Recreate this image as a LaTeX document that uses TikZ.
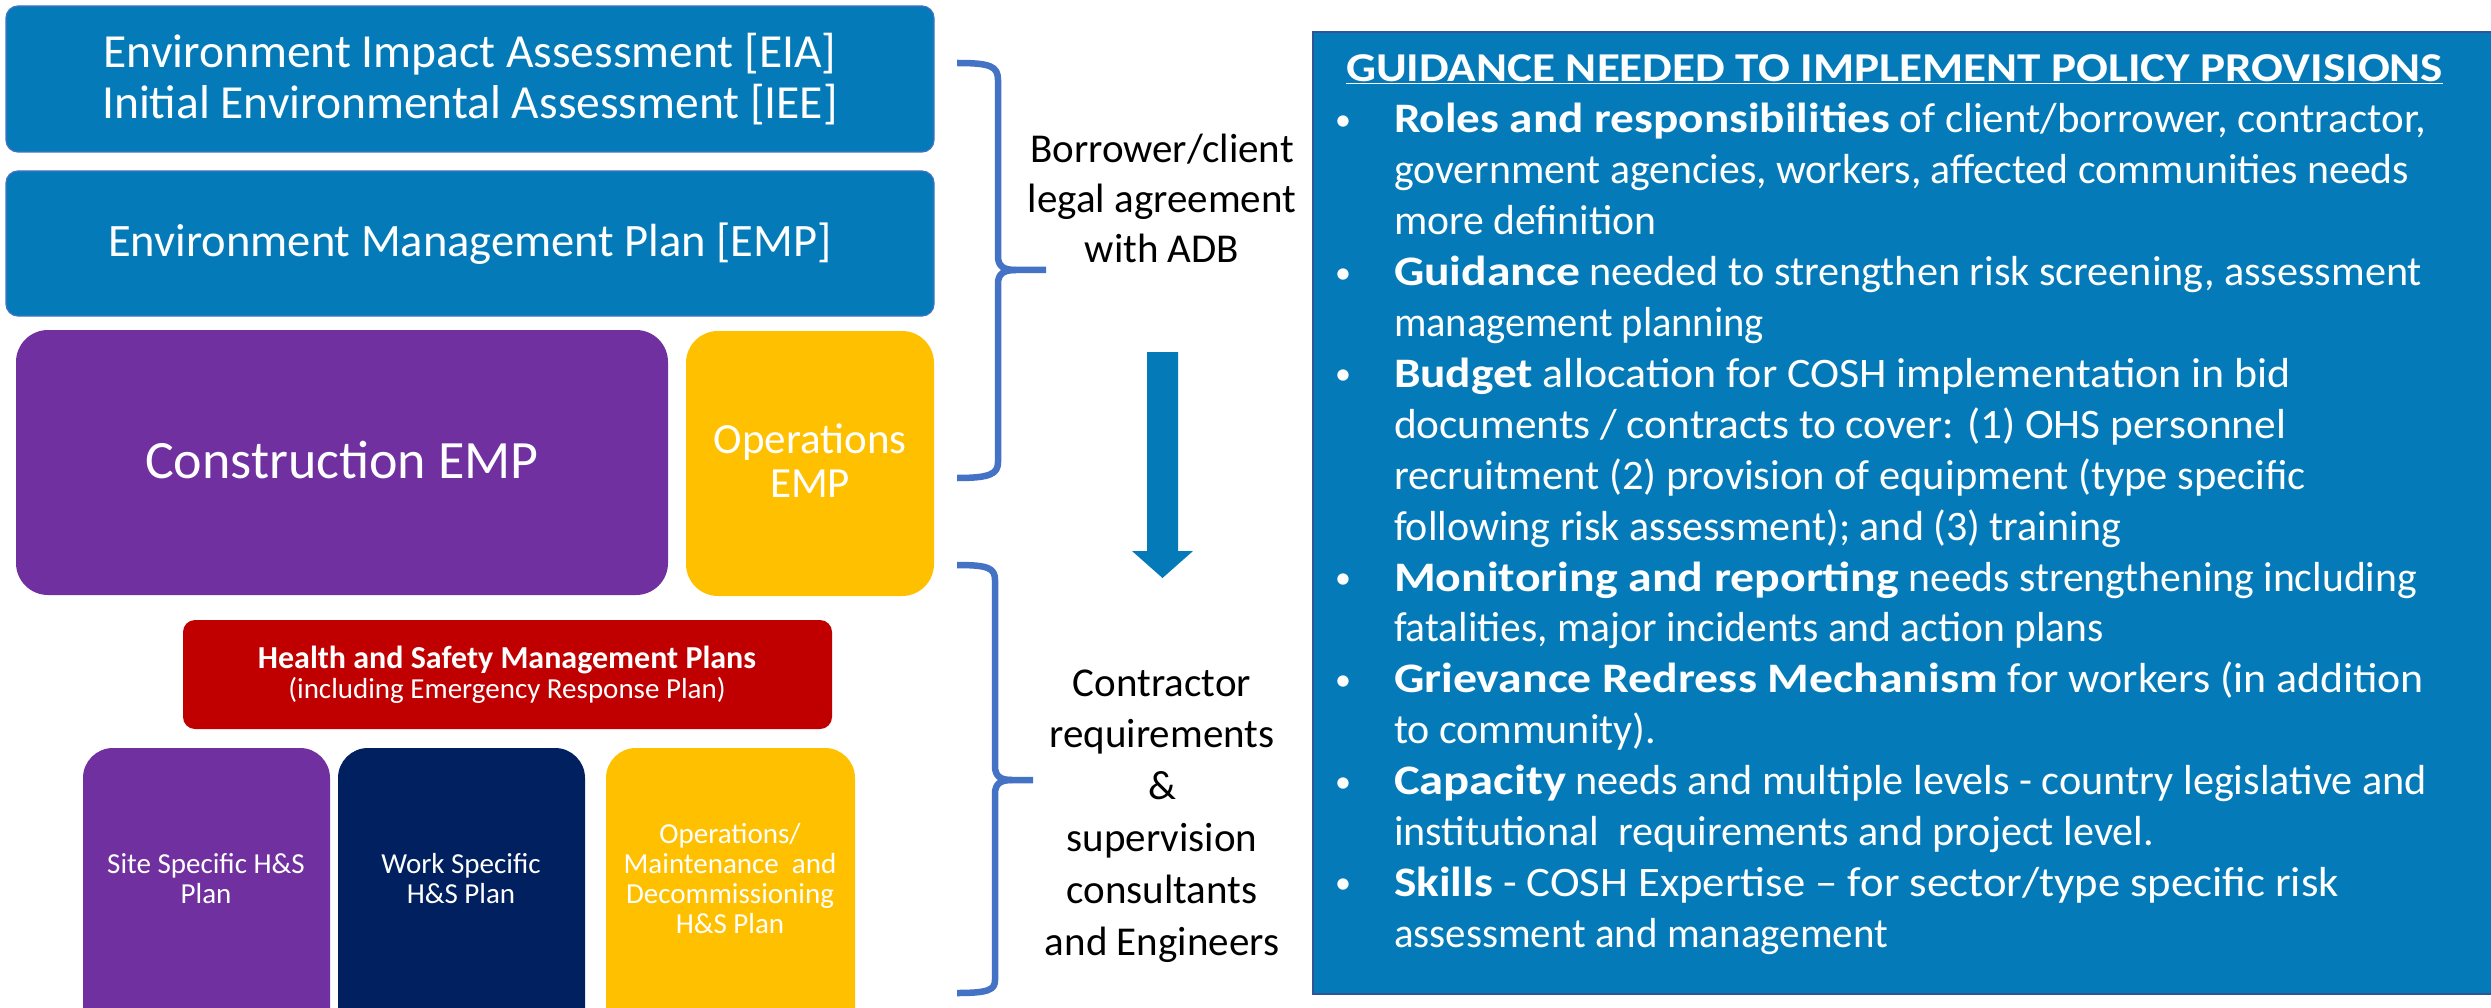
\documentclass[tikz,border=0pt]{standalone}
\usepackage{fontspec}
\setmainfont{Carlito}
\definecolor{eblue}{HTML}{047BB8}
\definecolor{brc}{HTML}{4472C4}
\definecolor{epurple}{HTML}{7030A0}
\definecolor{egold}{HTML}{FFC000}
\definecolor{enavy}{HTML}{002060}
\definecolor{ered}{HTML}{C00000}
\definecolor{pborder}{HTML}{2F5597}
\newcommand\mlc[3]{{\fontsize{#1}{#2}\selectfont\begin{tabular}[t]{@{}c@{}}#3\end{tabular}}}
\newcommand\fw[2]{\resizebox{#1pt}{\height}{#2}}
\newcommand\bul{\hspace*{5pt}\raisebox{2.5pt}{\fontsize{32}{32}\selectfont\textbullet}}
\begin{document}
\begin{tikzpicture}[x=1pt,y=-1pt,
  blk/.style={anchor=north west, inner sep=0pt, outer sep=0pt},
  lbl/.style={inner sep=0pt, outer sep=0pt, anchor=base, text=white},
  brace/.style={draw=brc, line width=6.5pt, line cap=butt, line join=round}]
\useasboundingbox (0,0) rectangle (2491,1008);
\clip (0,0) rectangle (2491,1008);
\fill[white] (0,0) rectangle (2491,1008);

% left boxes
\node[blk, fill=eblue, draw=brc, line width=1.2pt, rounded corners=12pt, minimum width=928pt, minimum height=146pt] (eia) at (6,6) {};
\node[blk, fill=eblue, draw=brc, line width=1.2pt, rounded corners=12pt, minimum width=928pt, minimum height=145pt] (emp) at (6,171) {};
\node[blk, fill=epurple, rounded corners=32pt, minimum width=652pt, minimum height=265pt] (cemp) at (16,330) {};
\node[blk, fill=egold, rounded corners=32pt, minimum width=248pt, minimum height=265pt] (oemp) at (686,331) {};
\node[blk, fill=ered, rounded corners=12pt, minimum width=649pt, minimum height=109pt] (hs) at (183,620) {};
\node[blk, fill=epurple, rounded corners=30pt, minimum width=247pt, minimum height=300pt] (site) at (83,748) {};
\node[blk, fill=enavy, rounded corners=30pt, minimum width=247pt, minimum height=300pt] (work) at (338,748) {};
\node[blk, fill=egold, rounded corners=30pt, minimum width=249pt, minimum height=300pt] (opm) at (606,748) {};

% right panel
\node[blk, fill=eblue, draw=pborder, line width=2pt, minimum width=1200pt, minimum height=962pt] (panel) at (1313,32) {};

% box texts
\node[lbl] (eiat) at (470,68) {\mlc{47.5}{51}{Environment Impact Assessment [EIA]\\Initial Environmental Assessment [IEE]}};
\node[lbl] (empt) at (470,257) {\mlc{46.5}{50}{Environment Management Plan [EMP]}};
\node[lbl] (cempt) at (342,478) {\mlc{54}{60}{Construction EMP}};
\node[lbl] (oempt) at (810,453) {\mlc{43}{44}{Operations\\EMP}};
\node[lbl] (hst) at (507,668) {\mlc{29}{30}{{\bfseries\fontsize{32}{30}\selectfont Health and Safety Management Plans}\\(including Emergency Response Plan)}};
\node[lbl] (sitet) at (206,873) {\mlc{29}{30}{Site Specific H\&S\\Plan}};
\node[lbl] (workt) at (461,873) {\mlc{29}{30}{Work Specific\\H\&S Plan}};
\node[lbl] (opmt) at (730,843) {\mlc{29}{30.3}{Operations/\\Maintenance\ \ and\\Decommissioning\\H\&S Plan}};

% braces
\draw[brace] (957,63) .. controls (990,63) and (998,66) .. (998,80) -- (998,256) .. controls (998,266) and (1003,270) .. (1016,270) -- (1046,270);
\draw[brace] (1016,270) .. controls (1003,270) and (998,274) .. (998,284) -- (998,462) .. controls (998,474) and (990,478) .. (957,478);
\draw[brace] (957,565) .. controls (988,565) and (995,568) .. (995,580) -- (995,766) .. controls (995,776) and (1000,780) .. (1012,780) -- (1033,780);
\draw[brace] (1012,780) .. controls (1000,780) and (995,784) .. (995,794) -- (995,980) .. controls (995,990) and (988,993) .. (957,993);

% middle texts
\node[lbl, text=black] (borr) at (1162,163) {\mlc{41}{50}{Borrower/client\\legal agreement\\with ADB}};
\node[lbl, text=black] (contr) at (1162,696) {\mlc{41}{51.8}{Contractor\\requirements\\\&\\supervision\\consultants\\and Engineers}};

% block arrow
\fill[eblue] (1147,352) -- (1178,352) -- (1178,551) -- (1193,551) -- (1162.5,578) -- (1132,551) -- (1147,551) -- cycle;

% panel text
\node[lbl, anchor=base west] (title) at (1346,82) {\fontsize{41}{50}\selectfont\bfseries\underline{\fw{1097}{GUIDANCE NEEDED TO IMPLEMENT POLICY PROVISIONS}}};
\node[lbl, anchor=base west] (body) at (1330,133) {\fontsize{42}{50.9}\selectfont\begin{tabular}[t]{@{}p{64pt}@{}l@{}}
\bul & \fw{496}{\bfseries Roles and responsibilities}\fw{536}{\ of client/borrower, contractor,}\\
 & \fw{1015}{government agencies, workers, affected communities needs}\\
 & \fw{262}{more definition}\\
\bul & \fw{186}{\bfseries Guidance}\fw{842}{\ needed to strengthen risk screening, assessment}\\
 & \fw{370}{management planning}\\
\bul & \fw{139}{\bfseries Budget}\fw{758}{\ allocation for COSH implementation in bid}\\
 & \fw{892}{documents / contracts to cover: (1) OHS personnel}\\
 & \fw{912}{recruitment (2) provision of equipment (type specific}\\
 & \fw{727}{following risk assessment); and (3) training}\\
\bul & \fw{505}{\bfseries Monitoring and reporting}\fw{518}{\ needs strengthening including}\\
 & \fw{710}{fatalities, major incidents and action plans}\\
\bul & \fw{604}{\bfseries Grievance Redress Mechanism}\fw{426}{\ for workers (in addition}\\
 & \fw{262}{to community).}\\
\bul & \fw{172}{\bfseries Capacity}\fw{861}{\ needs and multiple levels - country legislative and}\\
 & \fw{760}{institutional\ \ requirements and project level.}\\
\bul & \fw{99}{\bfseries Skills}\fw{846}{\ - COSH Expertise – for sector/type specific risk}\\
 & \fw{494}{assessment and management}
\end{tabular}};
\end{tikzpicture}
\end{document}
